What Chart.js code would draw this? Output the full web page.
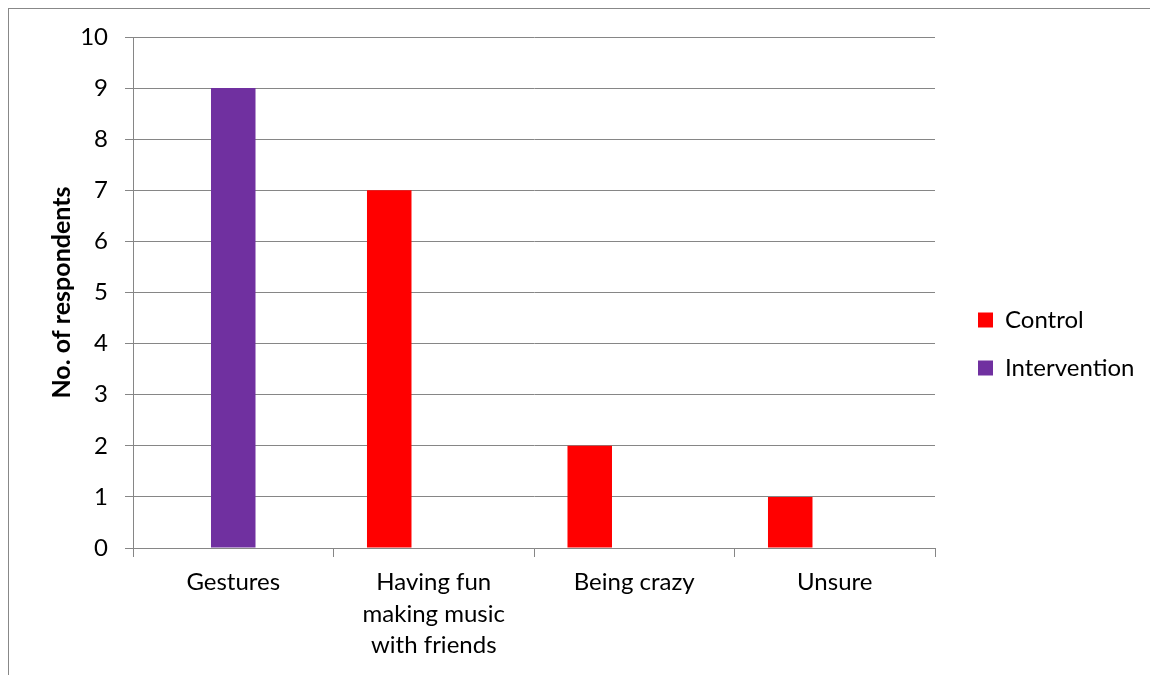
<!DOCTYPE html>
<html>
<head>
<meta charset="utf-8">
<title>No. of respondents</title>
<script src="https://cdn.jsdelivr.net/npm/chart.js@4/dist/chart.umd.min.js"></script>
<style>
  html, body { margin:0; padding:0; background:#fff; overflow:hidden; }
  #wrap { position:relative; width:1150px; height:675px; }
  #frame { position:absolute; left:8px; top:8px; width:1200px; height:700px;
           border-top:1px solid #888; border-left:1px solid #888; }
  #chart { position:absolute; left:0; top:0; }
</style>
</head>
<body>
<div id="wrap">
  <div id="frame"></div>
  <canvas id="chart" width="1150" height="675"></canvas>
</div>
<script>
// data
const categories = ['Gestures', ['Having fun', 'making music', 'with friends'], 'Being crazy', 'Unsure'];
const controlValues = [null, 7, 2, 1];
const interventionValues = [9, null, null, null];
const spacerValues = [null, null, null, null]; // empty third slot in each group
const yTicks = [0, 1, 2, 3, 4, 5, 6, 7, 8, 9, 10];

const GRID = '#868686';
Chart.defaults.font.family = 'Lato, "Open Sans", sans-serif';
Chart.defaults.color = '#000';

// legend: fixed width from the right edge, items nudged up a little
const legendFit = {
  id: 'legendFit',
  beforeInit(chart){
    const fit = chart.legend.fit;
    chart.legend.fit = function(){
      fit.bind(chart.legend)();
      this.width = 196;
      if(this.columnSizes && this.columnSizes[0]) this.columnSizes[0].height += 24;
    };
  }
};

new Chart(document.getElementById('chart'), {
  type: 'bar',
  data: {
    labels: categories,
    datasets: [
      {label:'Control', data:controlValues, backgroundColor:'#FF0000', borderWidth:0},
      {label:'Intervention', data:interventionValues, backgroundColor:'#7030A0', borderWidth:0},
      {label:'', data:spacerValues, backgroundColor:'rgba(0,0,0,0)', borderWidth:0}
    ]
  },
  options: {
    responsive:false,
    devicePixelRatio:1,
    animation:false,
    layout:{padding:{top:37, bottom:0, left:0, right:0}},
    datasets:{bar:{barPercentage:1, categoryPercentage:0.666}},
    scales:{
      x:{
        grid:{display:true, drawOnChartArea:false, drawTicks:true, tickLength:9, color:GRID, offset:true},
        border:{display:true, color:GRID, width:1},
        ticks:{font:{size:24, lineHeight:1.3}, padding:10, maxRotation:0, autoSkip:false},
        afterFit(s){ s.height = 127; }
      },
      y:{
        min:0, max:10,
        afterBuildTicks(s){ s.ticks = yTicks.map(v=>({value:v})); },
        grid:{color:GRID, tickLength:8, lineWidth:1},
        border:{display:true, color:GRID, width:1},
        ticks:{font:{size:24}, padding:17},
        title:{display:true, text:'No. of respondents', font:{size:25, weight:'bold'}, padding:{top:47, bottom:0}},
        afterFit(s){ s.width = 133; }
      },
      y2:{
        position:'right', min:0, max:10,
        grid:{display:false}, border:{display:false}, ticks:{display:false},
        afterFit(s){ s.width = 19; }
      }
    },
    plugins:{
      legend:{
        position:'right',
        labels:{
          boxWidth:15, boxHeight:15, padding:24,
          font:{size:24},
          filter:(item)=>item.text !== ''
        }
      },
      tooltip:{enabled:false}
    }
  },
  plugins:[legendFit]
});
</script>
</body>
</html>
